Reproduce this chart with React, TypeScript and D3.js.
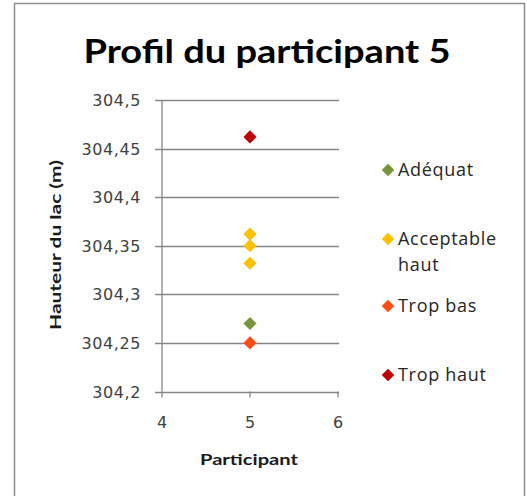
import * as d3 from 'd3';
import { useEffect, useRef } from 'react';

const seriesNames = ['Adéquat', 'Acceptable haut', 'Trop bas', 'Trop haut'];
const seriesColors = ['#77933C', '#FFC000', '#FF4B14', '#C00000'];
const participant = 5;
const adequat = [304.27];
const acceptableHaut = [304.362, 304.35, 304.332];
const tropBas = [304.25];
const tropHaut = [304.462];
const yTicks = [304.2, 304.25, 304.3, 304.35, 304.4, 304.45, 304.5];
const xTicks = [4, 5, 6];

export default function App() {
  const ref = useRef<SVGSVGElement | null>(null);

  useEffect(() => {
    if (!ref.current) return;
    const svg = d3.select(ref.current);
    svg.selectAll('*').remove();

    const width = 527;
    const height = 496;
    const font = 'Open Sans, DejaVu Sans, sans-serif';
    const grey = '#868686';
    const textColor = '#404040';

    svg.append('rect')
      .attr('width', width).attr('height', height).attr('fill', '#fff');
    // frame
    svg.append('rect')
      .attr('x', 14.5).attr('y', 3.5)
      .attr('width', 510).attr('height', 500)
      .attr('fill', 'none').attr('stroke', '#8c8c8c').attr('stroke-width', 1.5);

    const x = d3.scaleLinear().domain([4, 6]).range([162, 338]);
    const y = d3.scaleLinear().domain([304.2, 304.5]).range([391.5, 100]);

    // title
    svg.append('text')
      .attr('x', 267).attr('y', 63)
      .attr('text-anchor', 'middle')
      .attr('font-family', 'Lato, Open Sans, sans-serif').attr('font-weight', 'bold')
      .attr('font-size', 32)
      .attr('textLength', 367).attr('lengthAdjust', 'spacingAndGlyphs')
      .attr('fill', '#000')
      .text('Profil du participant 5');

    // gridlines
    svg.append('g')
      .selectAll('line')
      .data(yTicks)
      .join('line')
      .attr('x1', 155).attr('x2', 339)
      .attr('y1', (d) => Math.round(y(d)) + 0.5)
      .attr('y2', (d) => Math.round(y(d)) + 0.5)
      .attr('stroke', grey).attr('stroke-width', 1.3);

    // y axis line
    svg.append('line')
      .attr('x1', x(4)).attr('x2', x(4))
      .attr('y1', y(304.5)).attr('y2', y(304.2))
      .attr('stroke', grey).attr('stroke-width', 1.3);

    // x ticks
    svg.append('g')
      .selectAll('line')
      .data(xTicks)
      .join('line')
      .attr('x1', (d) => x(d)).attr('x2', (d) => x(d))
      .attr('y1', y(304.2)).attr('y2', y(304.2) + 6)
      .attr('stroke', grey).attr('stroke-width', 1.3);

    // y tick labels
    svg.append('g')
      .selectAll('text')
      .data(yTicks)
      .join('text')
      .attr('x', 141).attr('y', (d) => y(d) + 6)
      .attr('text-anchor', 'end')
      .attr('font-family', 'DejaVu Sans, Verdana, sans-serif')
      .attr('font-size', 16)
      .attr('letter-spacing', 0.6)
      .attr('fill', textColor)
      .text((d) => String(+d.toFixed(2)).replace('.', ','));

    // x tick labels
    svg.append('g')
      .selectAll('text')
      .data(xTicks)
      .join('text')
      .attr('x', (d) => x(d)).attr('y', 428)
      .attr('text-anchor', 'middle')
      .attr('font-family', 'DejaVu Sans, Verdana, sans-serif')
      .attr('font-size', 16)
      .attr('fill', textColor)
      .text((d) => d);

    // axis titles
    svg.append('text')
      .attr('x', 249).attr('y', 465)
      .attr('text-anchor', 'middle')
      .attr('font-family', 'Lato, Open Sans, sans-serif').attr('font-weight', 'bold')
      .attr('font-size', 16)
      .attr('textLength', 98).attr('lengthAdjust', 'spacingAndGlyphs')
      .attr('fill', '#1a1a1a')
      .text('Participant');

    svg.append('text')
      .attr('transform', 'translate(61,245) rotate(-90)')
      .attr('text-anchor', 'middle')
      .attr('font-family', 'Lato, Open Sans, sans-serif').attr('font-weight', 'bold')
      .attr('font-size', 16)
      .attr('textLength', 170).attr('lengthAdjust', 'spacingAndGlyphs')
      .attr('fill', '#1a1a1a')
      .text('Hauteur du lac (m)');

    const diamond = d3.symbol().type(d3.symbolDiamond2).size(110);
    const series = [adequat, acceptableHaut, tropBas, tropHaut];
    series.forEach((vals, i) => {
      svg.append('g')
        .selectAll('path')
        .data(vals)
        .join('path')
        .attr('transform', (d) => `translate(${x(participant)},${y(d)})`)
        .attr('d', diamond)
        .attr('fill', seriesColors[i]);
    });

    // legend
    const legendY = [170, 239, 306, 375];
    const legendSym = d3.symbol().type(d3.symbolDiamond2).size(100);
    seriesNames.forEach((name, i) => {
      const g = svg.append('g').attr('transform', `translate(388,${legendY[i]})`);
      g.append('path').attr('d', legendSym).attr('fill', seriesColors[i]);
      const words = name === 'Acceptable haut' ? ['Acceptable', 'haut'] : [name];
      words.forEach((w, j) => {
        g.append('text')
          .attr('x', 10).attr('y', 6 + j * 26)
          .attr('font-family', font)
          .attr('font-size', 18)
          .attr('letter-spacing', 0.7)
          .attr('fill', '#262626')
          .text(w);
      });
    });
  }, []);

  return (
    <svg
      ref={ref}
      width={527}
      height={496}
      style={{ position: 'absolute', left: 0, top: 0, display: 'block' }}
    />
  );
}
